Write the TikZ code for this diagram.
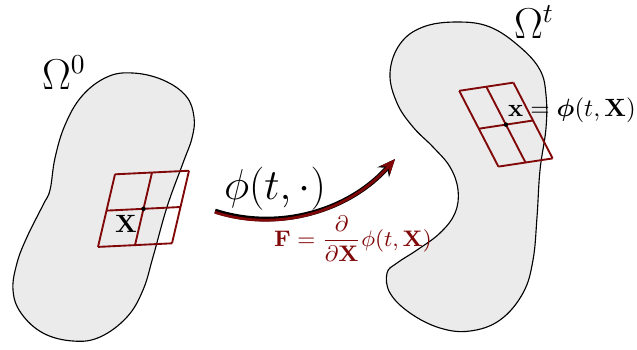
\documentclass[tikz,border=0pt]{standalone}
\usepackage{amsmath,amssymb,amsfonts}
\usepackage{xcolor}
\usepackage{tikz}
\usetikzlibrary{arrows.meta, calc}

\definecolor{gridred}{RGB}{128,8,8}
\definecolor{blobgray}{RGB}{235,235,235}

\begin{document}
\begin{tikzpicture}[
    x=0.4pt, y=-0.4pt,
    blob/.style={draw=black, fill=blobgray, line width=0.45pt},
    cell/.style={draw=gridred, line width=0.75pt},
    dotmark/.style={fill=black},
    flowshade/.style={black, line width=1.9pt, -{Stealth[length=7pt,width=6pt]}},
    flow/.style={gridred, line width=1.1pt, -{Stealth[length=6pt,width=5pt]}},
    tag/.style={inner sep=0pt},
    bigtag/.style={inner sep=0pt, font=\fontsize{16}{19}\selectfont}
]
    \useasboundingbox (0,0) rectangle (637,349);

    % reference configuration
    \draw[blob] plot[smooth cycle, tension=0.65] coordinates {
        (50,190) (55,158) (65,125) (82,96) (107,77) (133,73) (163,80)
        (186,96) (194,117) (192,138) (183,163) (167,207) (153,257)
        (143,290) (127,317) (100,337) (73,341) (43,333) (21,313)
        (13,290) (17,263) (27,237) (43,205)};

    % current configuration
    \draw[blob] plot[smooth cycle, tension=0.65] coordinates {
        (390,73) (400,44) (423,27) (457,22) (490,27) (520,47) (540,70)
        (546,95) (546,128) (540,170) (537,217) (533,260) (523,293)
        (500,320) (470,331) (440,328) (410,313) (390,293) (387,273)
        (397,263) (417,250) (440,233) (455,213) (458,190) (450,167)
        (433,147) (413,127) (397,103)};

    % material element
    \coordinate (lc) at (143.5,208.8);
    \coordinate (lu) at (37,-1.8);
    \coordinate (lv) at (-8.5,36.3);
    \foreach \s in {-1,0,1} {
        \draw[cell] ($(lc)+\s*(lu)-(lv)$) -- ($(lc)+\s*(lu)+(lv)$);
        \draw[cell] ($(lc)-(lu)+\s*(lv)$) -- ($(lc)+(lu)+\s*(lv)$);
    }
    \fill[dotmark] (lc) circle (0.9pt);

    % deformed element
    \coordinate (rc) at (505.9,124.6);
    \coordinate (ru) at (27.1,-4.1);
    \coordinate (rv) at (19.6,37.9);
    \foreach \s in {-1,0,1} {
        \draw[cell] ($(rc)+\s*(ru)-(rv)$) -- ($(rc)+\s*(ru)+(rv)$);
        \draw[cell] ($(rc)-(ru)+\s*(rv)$) -- ($(rc)+(ru)+\s*(rv)$);
    }
    \fill[dotmark] (rc) circle (0.9pt);

    % labels
    \node[bigtag] (om0) at (64,73) {$\Omega^0$};
    \node[bigtag] (omt) at (534,22) {$\Omega^t$};
    \node[tag] (ptX) at (126,224) {$\mathbf{X}$};
    \node[tag] (ptx) at (572,110) {$\mathbf{x}=\boldsymbol{\phi}(t,\mathbf{X})$};
    \node[bigtag] (map) at (275,189) {$\phi(t,\cdot)$};
    \node[tag, text=gridred, font=\small] (grad) at (353,239)
        {$\mathbf{F}=\dfrac{\partial}{\partial\mathbf{X}}\phi(t,\mathbf{X})$};

    % mapping arrow
    \coordinate (mapstart) at (215,211);
    \coordinate (mapend) at (395,159);
    \draw[flowshade] (mapstart) .. controls (280,232) and (350,210) .. (mapend);
    \draw[flow] ([yshift=-0.5pt]mapstart) .. controls ([yshift=-0.5pt]280,232) and ([yshift=-0.3pt]350,210) .. (mapend);
\end{tikzpicture}
\end{document}
